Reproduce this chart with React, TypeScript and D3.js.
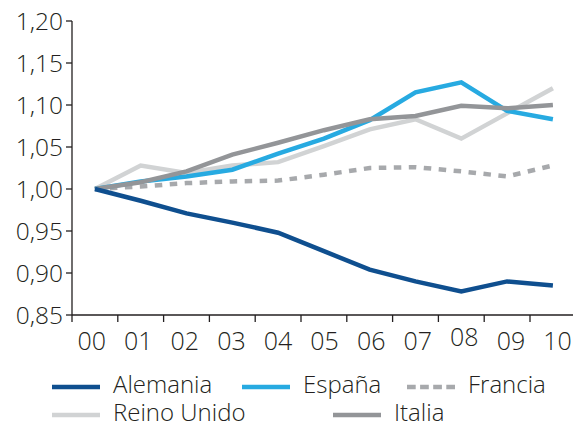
import React from "react";
import * as d3 from "d3";

// Years (two-digit labels) along the x axis
const years = ["00", "01", "02", "03", "04", "05", "06", "07", "08", "09", "10"];

// Index values per country (base 2000 = 1,00)
const alemania = [1.0, 0.986, 0.971, 0.96, 0.948, 0.926, 0.904, 0.89, 0.878, 0.89, 0.885];
const espana = [1.0, 1.009, 1.015, 1.023, 1.042, 1.06, 1.082, 1.115, 1.127, 1.093, 1.083];
const francia = [1.0, 1.003, 1.007, 1.009, 1.01, 1.017, 1.025, 1.026, 1.021, 1.015, 1.028];
const reinoUnido = [1.0, 1.028, 1.019, 1.028, 1.032, 1.051, 1.071, 1.083, 1.06, 1.09, 1.12];
const italia = [1.0, 1.008, 1.021, 1.041, 1.055, 1.07, 1.083, 1.087, 1.099, 1.096, 1.1];

// Y axis tick values
const yTicks = [0.85, 0.9, 0.95, 1.0, 1.05, 1.1, 1.15, 1.2];

const WIDTH = 573;
const HEIGHT = 423;
const FONT = "'Open Sans', 'Noto Sans', sans-serif";
const INK = "#231f20";

type Series = { name: string; values: number[]; color: string; dash?: string };

const series: Series[] = [
  { name: "Reino Unido", values: reinoUnido, color: "#d1d3d4" },
  { name: "Francia", values: francia, color: "#a7a9ac", dash: "7.5,7.5" },
  { name: "España", values: espana, color: "#27aae1" },
  { name: "Italia", values: italia, color: "#939598" },
  { name: "Alemania", values: alemania, color: "#0f4f8f" },
];

const legendItems = [
  { name: "Alemania", row: 0, x: 52 },
  { name: "España", row: 0, x: 242 },
  { name: "Francia", row: 0, x: 407 },
  { name: "Reino Unido", row: 1, x: 52 },
  { name: "Italia", row: 1, x: 333 },
];

export default function App() {
  const left = 72;
  const bottom = 315;
  const top = 21;
  const step = 45.8;

  const x = d3
    .scaleBand<string>()
    .domain(years)
    .range([left, left + step * years.length])
    .paddingInner(0)
    .paddingOuter(0);
  const y = d3.scaleLinear().domain([0.85, 1.2]).range([bottom, top]);

  // year labels are spread slightly wider than the tick spacing
  const labelX = d3
    .scalePoint<string>()
    .domain(years)
    .range([91.7, 557.5]);

  const line = d3
    .line<number>()
    .x((_, i) => (x(years[i]) as number) + x.bandwidth() / 2)
    .y((d) => y(d));

  const fmt = (v: number) => v.toFixed(2).replace(".", ",");
  const byName = (n: string) => series.find((s) => s.name === n)!;

  return (
    <div style={{ position: "absolute", left: 0, top: 0 }}>
      <svg width={WIDTH} height={HEIGHT} style={{ display: "block", background: "#fff" }}>
        {/* y axis */}
        <line x1={left} x2={left} y1={top} y2={bottom + 7} stroke={INK} strokeWidth={1.3} />
        {yTicks.map((t) => (
          <g key={t}>
            <line x1={left - 6} x2={left} y1={y(t)} y2={y(t)} stroke={INK} strokeWidth={1.3} />
            <text
              x={left - 9}
              y={y(t)}
              dy="0.36em"
              textAnchor="end"
              fontFamily={FONT}
              fontWeight={300}
              fontSize={24.5}
              fill={INK}
            >
              {fmt(t)}
            </text>
          </g>
        ))}

        {/* x axis */}
        <line x1={left} x2={WIDTH} y1={bottom} y2={bottom} stroke={INK} strokeWidth={1.3} />
        {years.map((yr) => {
          const bx = x(yr) as number;
          return (
            <g key={yr}>
              <line x1={bx + step} x2={bx + step} y1={bottom} y2={bottom + 7} stroke={INK} strokeWidth={1.3} />
              <text
                x={labelX(yr)}
                y={yr === "08" ? 346 : 350}
                textAnchor="middle"
                fontFamily={FONT}
                fontWeight={300}
                fontSize={25}
                fill={INK}
              >
                {yr}
              </text>
            </g>
          );
        })}

        {/* series lines */}
        {series.map((s) => (
          <path
            key={s.name}
            d={line(s.values) || ""}
            fill="none"
            stroke={s.color}
            strokeWidth={4.5}
            strokeDasharray={s.dash}
            strokeLinejoin="miter"
          />
        ))}

        {/* legend */}
        {legendItems.map((it) => {
          const s = byName(it.name);
          const ly = it.row === 0 ? 387 : 415;
          return (
            <g key={it.name}>
              <line
                x1={it.x}
                x2={it.x + 48}
                y1={ly}
                y2={ly}
                stroke={s.color}
                strokeWidth={4.5}
                strokeDasharray={s.dash ? "8.7,4.4" : undefined}
              />
              <text
                x={it.x + 61}
                y={ly + 6}
                fontFamily={FONT}
                fontWeight={300}
                fontSize={24}
                fill={INK}
              >
                {s.name}
              </text>
            </g>
          );
        })}
      </svg>
    </div>
  );
}
